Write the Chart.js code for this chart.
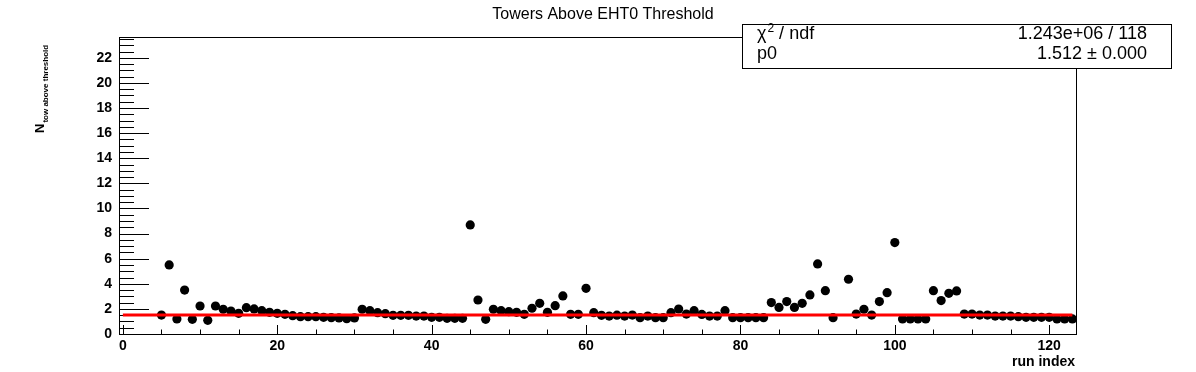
<!DOCTYPE html>
<html>
<head>
<meta charset="utf-8">
<style>
  html, body { margin: 0; padding: 0; background: #fff; }
  #wrap { width: 1196px; height: 372px; }
</style>
<script src="https://cdn.jsdelivr.net/npm/chart.js@4/dist/chart.umd.min.js"></script>
</head>
<body>
<div id="wrap"><canvas id="towChart" width="1196" height="372"></canvas></div>
<script>
// --- data ---
const runIndex = [
  5, 6, 7, 8, 9, 10, 11, 12, 13, 14, 15, 16, 17, 18, 19, 20, 21, 22, 23, 24, 25, 26, 27, 28, 29, 30, 31, 32, 33, 34,
  35, 36, 37, 38, 39, 40, 41, 42, 43, 44, 45, 46, 47, 48, 49, 50, 51, 52, 53, 54, 55, 56, 57, 58, 59, 60, 61, 62, 63, 64,
  65, 66, 67, 68, 69, 70, 71, 72, 73, 74, 75, 76, 77, 78, 79, 80, 81, 82, 83, 84, 85, 86, 87, 88, 89, 90, 91, 92,
  94, 95, 96, 97, 98, 99, 100, 101, 102, 103, 104, 105, 106, 107, 108, 109, 110, 111, 112, 113, 114, 115, 116, 117, 118, 119, 120, 121, 122, 123
];
const nTowAbove = [
  1.51, 5.50, 1.20, 3.50, 1.17, 2.23, 1.09, 2.23, 1.97, 1.83, 1.65, 2.10, 2.00, 1.86, 1.73, 1.65, 1.57, 1.46, 1.38, 1.38, 1.38, 1.33, 1.30, 1.28, 1.22, 1.28, 1.97, 1.86, 1.70, 1.62,
  1.49, 1.49, 1.49, 1.43, 1.43, 1.33, 1.33, 1.25, 1.25, 1.25, 8.69, 2.71, 1.17, 1.97, 1.86, 1.78, 1.73, 1.57, 2.05, 2.44, 1.73, 2.26, 3.03, 1.57, 1.57, 3.64, 1.70, 1.49, 1.43, 1.50,
  1.43, 1.51, 1.30, 1.43, 1.30, 1.30, 1.70, 1.99, 1.59, 1.86, 1.56, 1.43, 1.43, 1.86, 1.30, 1.30, 1.30, 1.30, 1.30, 2.50, 2.12, 2.58, 2.12, 2.44, 3.11, 5.58, 3.45, 1.30,
  4.36, 1.59, 1.97, 1.51, 2.58, 3.29, 7.28, 1.20, 1.20, 1.20, 1.20, 3.45, 2.66, 3.24, 3.43, 1.59, 1.59, 1.51, 1.51, 1.43, 1.43, 1.43, 1.38, 1.33, 1.33, 1.33, 1.33, 1.20, 1.20, 1.20
];
const fitRange = [0, 123];
const fitP0 = 1.512;

const xTickLabels = [0, 20, 40, 60, 80, 100, 120];
const yTickLabels = [0, 2, 4, 6, 8, 10, 12, 14, 16, 18, 20, 22];
const xRange = [-0.5, 123.6];
const yRange = [0, 23.66];

const titleText = 'Towers Above EHT0 Threshold';
const xTitle = 'run index';
const statsRows = [
  ['χ', ' / ndf', '1.243e+06 / 118'],
  ['p0', '', '1.512 ± 0.000']
];

const FONT = '"Liberation Sans", Arial, Helvetica, sans-serif';

// ROOT-like frame, inward tick marks, title, stats box, axis titles
const rootDecor = {
  id: 'rootDecor',
  beforeDatasetsDraw(chart) {
    const { ctx, chartArea: a, scales: { x, y } } = chart;
    ctx.save();
    ctx.strokeStyle = '#000';
    ctx.lineWidth = 1;
    ctx.strokeRect(a.left + 0.5, a.top + 0.5, a.right - a.left - 1, a.bottom - a.top);

    ctx.beginPath();
    // y ticks: majors every 2, minors every 0.5
    for (let v = 0; v <= yRange[1]; v += 0.5) {
      const py = Math.round(y.getPixelForValue(v)) + 0.5;
      const len = (v % 2 === 0) ? 30 : 15;
      ctx.moveTo(a.left, py);
      ctx.lineTo(a.left + len, py);
    }
    // x ticks: majors every 20, minors every 5
    for (let v = 0; v <= xRange[1]; v += 5) {
      const px = Math.round(x.getPixelForValue(v)) + 0.5;
      const len = (v % 20 === 0) ? 9 : 4.5;
      ctx.moveTo(px, a.bottom);
      ctx.lineTo(px, a.bottom - len);
    }
    ctx.stroke();
    ctx.restore();
  },
  afterDraw(chart) {
    const { ctx, chartArea: a } = chart;
    ctx.save();
    ctx.fillStyle = '#000';

    // title
    ctx.font = '16px ' + FONT;
    ctx.textAlign = 'center';
    ctx.textBaseline = 'alphabetic';
    ctx.fillText(titleText, 603, 19);

    // x title
    ctx.font = 'bold 14px ' + FONT;
    ctx.textAlign = 'right';
    ctx.fillText(xTitle, a.right - 2, 366);

    // y title, rotated, with subscript
    ctx.save();
    ctx.translate(44, 133);
    ctx.rotate(-Math.PI / 2);
    ctx.textAlign = 'left';
    ctx.font = 'bold 13px ' + FONT;
    ctx.fillText('N', 0, 0);
    const nW = ctx.measureText('N').width;
    ctx.font = 'bold 8px ' + FONT;
    ctx.fillText('tow above threshold', nW + 1, 4);
    ctx.restore();

    // stats box
    const bx = 742, by = 24, bw = 429, bh = 44;
    ctx.fillStyle = '#fff';
    ctx.fillRect(bx, by, bw, bh);
    ctx.strokeStyle = '#000';
    ctx.lineWidth = 1;
    ctx.strokeRect(bx + 0.5, by + 0.5, bw, bh);
    ctx.fillStyle = '#000';
    const baselines = [39, 59];
    statsRows.forEach((row, i) => {
      const yb = baselines[i];
      ctx.textAlign = 'left';
      ctx.font = '18px ' + FONT;
      ctx.fillText(row[0], 757, yb);
      let cx = 757 + ctx.measureText(row[0]).width;
      if (i === 0) {
        ctx.font = '12px ' + FONT;
        ctx.fillText('2', cx + 1, yb - 7);
        cx += ctx.measureText('2').width + 1;
        ctx.font = '18px ' + FONT;
        ctx.fillText(row[1], cx, yb);
      }
      ctx.textAlign = 'right';
      ctx.font = '18px ' + FONT;
      ctx.fillText(row[2], 1147, yb);
    });
    ctx.restore();
  }
};

const points = runIndex.map((r, i) => ({ x: r, y: nTowAbove[i] }));
const fitLine = fitRange.map(r => ({ x: r, y: fitP0 }));

new Chart(document.getElementById('towChart').getContext('2d'), {
  type: 'scatter',
  data: {
    datasets: [{
      label: 'fit',
      type: 'line',
      data: fitLine,
      borderColor: '#ff0000',
      borderWidth: 3,
      pointRadius: 0,
      fill: false,
      order: 0
    }, {
      label: 'N tow above threshold',
      data: points,
      pointStyle: 'circle',
      pointRadius: 4.6,
      backgroundColor: '#000',
      borderColor: '#000',
      borderWidth: 0,
      order: 1
    }]
  },
  options: {
    responsive: false,
    animation: false,
    devicePixelRatio: 1,
    layout: { padding: { top: 37, right: 119, left: 0, bottom: 0 } },
    plugins: { legend: { display: false }, tooltip: { enabled: false }, title: { display: false } },
    scales: {
      x: {
        type: 'linear',
        min: xRange[0], max: xRange[1],
        grid: { display: false, drawTicks: false },
        border: { display: false },
        afterBuildTicks: s => { s.ticks = xTickLabels.map(v => ({ value: v })); },
        afterFit: s => { s.height = 38; },
        ticks: { color: '#000', font: { family: FONT, size: 14, weight: 'bold' }, padding: 4, maxRotation: 0, autoSkip: false }
      },
      y: {
        type: 'linear',
        min: yRange[0], max: yRange[1],
        grid: { display: false, drawTicks: false },
        border: { display: false },
        afterBuildTicks: s => { s.ticks = yTickLabels.map(v => ({ value: v })); },
        afterFit: s => { s.width = 119; },
        ticks: { color: '#000', font: { family: FONT, size: 14, weight: 'bold' }, padding: 7, autoSkip: false }
      }
    }
  },
  plugins: [rootDecor]
});
</script>
</body>
</html>
